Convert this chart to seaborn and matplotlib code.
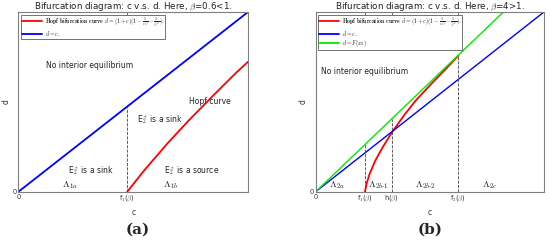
import numpy as np
import pandas as pd
import matplotlib
matplotlib.use("Agg")
import matplotlib.pyplot as plt
import seaborn as sns

sns.set_style("white")
plt.rcParams['font.family'] = ['DejaVu Sans']
plt.rcParams['mathtext.fontset'] = 'cm'

# ---- panel (a): beta = 0.6 < 1 (c and d scaled to [0, 1])
a_diag_c = [0.0, 1.0]
a_diag_d = [0.0, 1.0]
a_hopf_c = [0.474, 0.55, 0.65, 0.74, 0.85, 0.95, 1.0]
a_hopf_d = [0.0, 0.122, 0.27, 0.394, 0.537, 0.664, 0.723]
a_f1 = 0.474
a_ticks = [0.0, a_f1]
a_ticklabels = ["0", r"f$_1$($\beta$)"]

# ---- panel (b): beta = 4 > 1
b_diag_c = [0.0, 1.0]
b_diag_d = [0.0, 1.0]
b_F_c = [0.0, 0.822]
b_F_d = [0.0, 1.0]
b_hopf_c = [0.216, 0.222, 0.235, 0.26, 0.29, 0.333, 0.39, 0.44, 0.51, 0.57, 0.625]
b_hopf_d = [0.0, 0.04, 0.095, 0.17, 0.24, 0.328, 0.43, 0.51, 0.605, 0.683, 0.758]
b_f1, b_h, b_f2 = 0.216, 0.333, 0.625
b_ticks = [0.0, b_f1, b_h, b_f2]
b_ticklabels = ["0", r"f$_1$($\beta$)", r"h($\beta$)", r"f$_2$($\beta$)"]

hopf_label = (r"$\mathbf{Hopf\ bifurcation\ curve}$ $d=(1+c)(1-\frac{1}{c\beta}-\frac{1}{\beta^2})$.")

fig = plt.figure(figsize=(5.5, 2.41), dpi=100)
axA = fig.add_axes([0.0336, 0.2046, 0.4173, 0.7456])
axB = fig.add_axes([0.574, 0.2046, 0.415, 0.7456])


def style_axes(ax, ticks, labels, title):
    ax.set_xlim(0, 1)
    ax.set_ylim(0, 1)
    ax.set_xticks(ticks)
    ax.set_xticklabels(labels, fontsize=4.8)
    ax.set_yticks([0])
    ax.set_yticklabels(["0"], fontsize=4.8)
    ax.tick_params(axis="both", length=2, width=0.5, pad=1.5, colors="#333333",
                   direction="in", top=True)
    for s in ax.spines.values():
        s.set_color("#7f7f7f")
        s.set_linewidth(0.8)
    ax.set_xlabel("c", fontsize=5.5, labelpad=3, color="#333333")
    ax.set_ylabel("d", fontsize=5.5, labelpad=1, color="#333333")
    ax.set_title(title, fontsize=6.3, pad=2, color="#222222")


def make_legend(ax):
    leg = ax.legend(loc="upper left", fontsize=4.2, frameon=True, fancybox=False,
                    edgecolor="#333333", borderaxespad=0.45, handlelength=3.4,
                    borderpad=0.15, labelspacing=0.05, handletextpad=0.5)
    leg.get_frame().set_linewidth(0.6)
    for line in leg.get_lines():
        line.set_linewidth(1.3)
    return leg


# panel (a)
sns.lineplot(x=a_hopf_c, y=a_hopf_d, ax=axA, color="red", lw=1.3, label=hopf_label)
sns.lineplot(x=a_diag_c, y=a_diag_d, ax=axA, color="blue", lw=1.3, label=r"$d=c$.")
axA.plot([a_f1, a_f1], [0, a_f1], ls="--", color="#444444", lw=0.6)
style_axes(axA, a_ticks, a_ticklabels, r"Bifurcation diagram: c v.s. d. Here, $\beta$=0.6<1.")
tk = dict(fontsize=5.5, color="#222222", ha="center", va="center", transform=axA.transAxes)
lk = dict(fontsize=7, color="#222222", ha="center", va="center")
axA.text(0.31, 0.70, "No interior equilibrium", **tk)
axA.text(0.834, 0.50, "Hopf curve", **tk)
axA.text(0.617, 0.40, r"E$_2^*$ is a sink", **tk)
axA.text(0.316, 0.117, r"E$_2^*$ is a sink", **tk)
axA.text(0.755, 0.117, r"E$_2^*$ is a source", **tk)
axA.text(0.225, 0.035, r"$\Lambda_{1a}$", transform=axA.transAxes, **lk)
axA.text(0.665, 0.035, r"$\Lambda_{1b}$", transform=axA.transAxes, **lk)
make_legend(axA)

# panel (b)
sns.lineplot(x=b_hopf_c, y=b_hopf_d, ax=axB, color="red", lw=1.3, label=hopf_label)
sns.lineplot(x=b_diag_c, y=b_diag_d, ax=axB, color="blue", lw=1.0, label=r"$d=c$.")
sns.lineplot(x=b_F_c, y=b_F_d, ax=axB, color="#00ee00", lw=1.0, label=r"$d=F(x_0)$")
slope = b_F_d[1] / b_F_c[1]
for v in [b_f1, b_h, b_f2]:
    axB.plot([v, v], [0, v * slope], ls="--", color="#444444", lw=0.6)
style_axes(axB, b_ticks, b_ticklabels, r"Bifurcation diagram: c v.s. d. Here, $\beta$=4>1.")
tk["transform"] = axB.transAxes
axB.text(0.216, 0.668, "No interior equilibrium", **tk)
axB.text(0.095, 0.035, r"$\Lambda_{2a}$", transform=axB.transAxes, **lk)
axB.text(0.274, 0.035, r"$\Lambda_{2b\text{-}1}$", transform=axB.transAxes, **lk)
axB.text(0.479, 0.035, r"$\Lambda_{2b\text{-}2}$", transform=axB.transAxes, **lk)
axB.text(0.763, 0.035, r"$\Lambda_{2c}$", transform=axB.transAxes, **lk)
make_legend(axB)

fig.text(0.251, 0.045, "(a)", fontsize=11, fontweight="bold", family="serif",
         ha="center", va="center")
fig.text(0.782, 0.045, "(b)", fontsize=11, fontweight="bold", family="serif",
         ha="center", va="center")

fig.savefig("out.png", dpi=100)
